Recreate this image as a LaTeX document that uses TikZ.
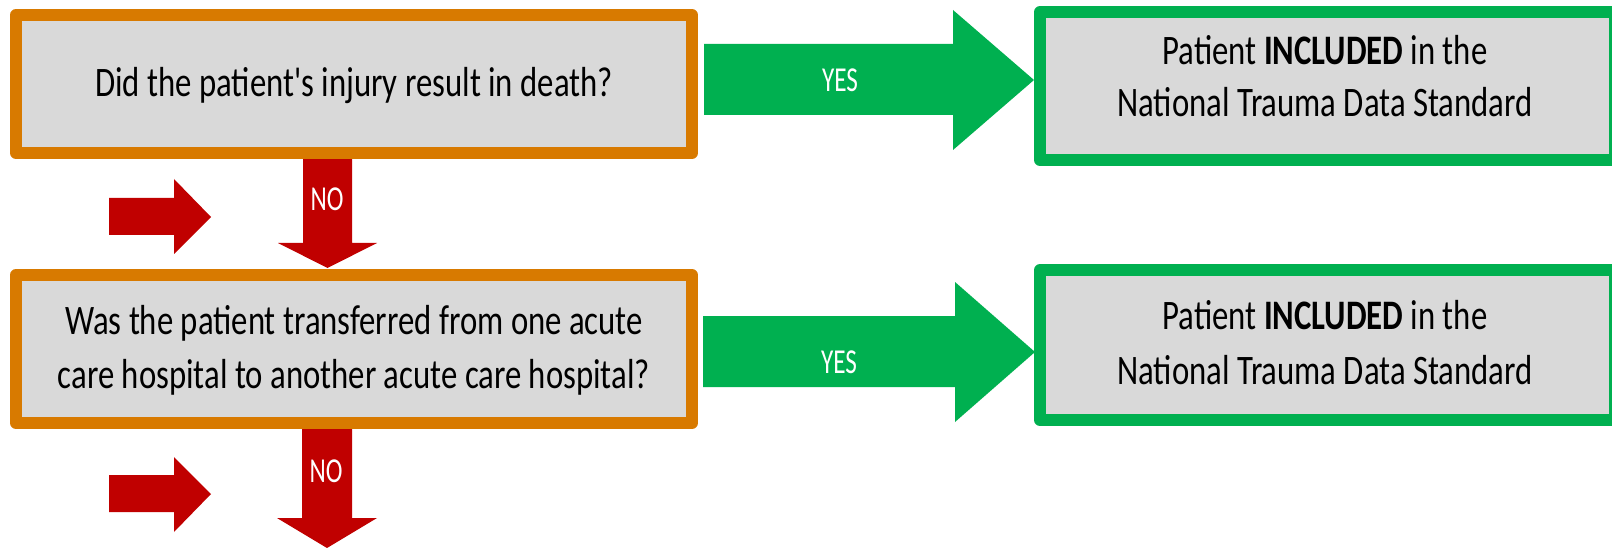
\documentclass[tikz,border=0pt]{standalone}
\usepackage{fontspec}
\setmainfont{Carlito}
\newfontfamily\boxfont[FakeStretch=0.78]{Carlito}
\newfontfamily\lblfont[FakeStretch=0.72]{Carlito}
\definecolor{orangeb}{RGB}{216,122,0}
\definecolor{greenb}{RGB}{0,176,80}
\definecolor{redb}{RGB}{192,0,0}
\definecolor{grayb}{RGB}{217,217,217}
\begin{document}
\begin{tikzpicture}[x=1pt,y=-1pt,
  qbox/.style={draw=orangeb, fill=grayb, line width=12pt, line join=round, inner sep=0pt},
  gbox/.style={draw=greenb, fill=grayb, line width=12pt, line join=round, inner sep=0pt},
  btext/.style={font=\boxfont\fontsize{42}{52}\selectfont, anchor=base, inner sep=0pt, text=black},
  lbl/.style={font=\lblfont\fontsize{35}{40}\selectfont, anchor=base, inner sep=0pt, text=white},
  noarrow/.style={fill=redb},
  yesarrow/.style={fill=greenb}]
\useasboundingbox (0,0) rectangle (1612,548);
\clip (0,0) rectangle (1612,548);
\fill[white] (0,0) rectangle (1612,548);

% block arrows (drawn first, boxes overlap them)
\fill[noarrow] (303,155) -- (352,155) -- (352,243) -- (377,243) -- (327.5,268) -- (278,243) -- (303,243) -- cycle;
\fill[noarrow] (302,425) -- (352,425) -- (352,518) -- (377,518) -- (327,548) -- (277,518) -- (302,518) -- cycle;
\fill[yesarrow] (704,44) -- (953,44) -- (953,10) -- (1034,80) -- (953,150) -- (953,115) -- (704,115) -- cycle;
\fill[yesarrow] (703,316) -- (955,316) -- (955,282) -- (1035,352) -- (955,422) -- (955,387) -- (703,387) -- cycle;
\fill[noarrow] (109,198) -- (174,198) -- (174,179) -- (211,217) -- (174,254) -- (174,235) -- (109,235) -- cycle;
\fill[noarrow] (109,475) -- (174,475) -- (174,457) -- (211,494) -- (174,532) -- (174,512) -- (109,512) -- cycle;

% boxes
\node[qbox, minimum width=676pt, minimum height=138pt] (q1) at (354,84) {};
\node[qbox, minimum width=676pt, minimum height=148pt] (q2) at (354,349) {};
\node[gbox, minimum width=575pt, minimum height=148pt] (g1) at (1327.5,86) {};
\node[gbox, minimum width=575pt, minimum height=150pt] (g2) at (1327.5,345) {};

% texts
\node[btext] (t1) at (354,97) {Did the patient's injury result in death?};
\node[btext] (t2a) at (354,334) {Was the patient transferred from one acute};
\node[btext] (t2b) at (354,388) {care hospital to another acute care hospital?};
\node[btext] (g1a) at (1325,65) {Patient \textbf{INCLUDED} in the};
\node[btext] (g1b) at (1325,117) {National Trauma Data Standard};
\node[btext] (g2a) at (1325,329) {Patient \textbf{INCLUDED} in the};
\node[btext] (g2b) at (1325,384) {National Trauma Data Standard};

% labels
\node[lbl] (yes1) at (840,92) {YES};
\node[lbl] (yes2) at (839,373) {YES};
\node[lbl] (no1) at (327,211) {NO};
\node[lbl] (no2) at (326,482) {NO};
\end{tikzpicture}
\end{document}
